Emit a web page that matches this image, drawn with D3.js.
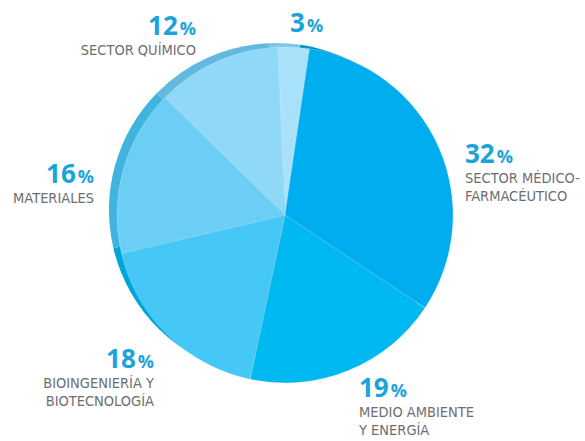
<!DOCTYPE html>
<html>
<head>
<meta charset="utf-8">
<script src="https://cdn.jsdelivr.net/npm/d3@7"></script>
<style>
  body { margin: 0; background: #fff; }
  .pct { font-family: "Open Sans", sans-serif; font-weight: 700; fill: #1ba3dc; }
  .lbl { font-family: "Liberation Sans Narrow", "DejaVu Sans Condensed", sans-serif; fill: #6d6e71; font-size: 14.5px; }
</style>
</head>
<body>
<div id="chart"></div>
<script>
// data, in clockwise order starting at the top
var categories = ["Otros", "Sector médico-farmacéutico", "Medio ambiente y energía",
                  "Bioingeniería y biotecnología", "Materiales", "Sector químico"];
var values = [3, 32, 19, 18, 16, 12];
var labelLines = [
  [],
  ["SECTOR MÉDICO-", "FARMACÉUTICO"],
  ["MEDIO AMBIENTE", "Y ENERGÍA"],
  ["BIOINGENIERÍA Y", "BIOTECNOLOGÍA"],
  ["MATERIALES"],
  ["SECTOR QUÍMICO"]
];

// colours of the top face and of the rim
var faceColors = ["#a9e1fa", "#00adee", "#00b9f1", "#45c8f5", "#6dcef5", "#8fd8f7"];
var rimColors  = ["#7cc6e6", "#0092cb", "#0096cf", "#00a6d9", "#40b3de", "#63b8df"];

// label anchor points (x, y of the percentage baseline) and alignment
var labelPos = [
  {x: 290, y: 32, anchor: "start"},
  {x: 465, y: 163, anchor: "start"},
  {x: 359, y: 397, anchor: "start"},
  {x: 154, y: 368, anchor: "end"},
  {x: 94,  y: 183, anchor: "end"},
  {x: 196, y: 35,  anchor: "end"}
];

var width = 585, height = 441;
var cx = 285, cy = 215, r = 168;

var svg = d3.select("#chart")
  .append("svg")
    .attr("width", width)
    .attr("height", height);

var start = -2.4 * Math.PI / 180;
var pie = d3.pie()
  .sort(null)
  .startAngle(start)
  .endAngle(start + 2 * Math.PI);

var arcs = pie(values);
var arc = d3.arc().innerRadius(0).outerRadius(r);

// rim (drawn behind, shifted up-left)
svg.append("g")
  .attr("transform", "translate(" + (cx - 9) + "," + (cy - 5) + ")")
  .selectAll("path")
  .data(arcs)
  .enter()
  .append("path")
    .attr("d", d3.arc().innerRadius(0).outerRadius(r - 1))
    .attr("fill", function(d, i) { return rimColors[i]; });

// face
svg.append("g")
  .attr("transform", "translate(" + cx + "," + cy + ")")
  .selectAll("path")
  .data(arcs)
  .enter()
  .append("path")
    .attr("d", arc)
    .attr("fill", function(d, i) { return faceColors[i]; })
    .attr("stroke", "rgba(255,255,255,0.35)")
    .attr("stroke-width", 0.6);

// labels
var lab = svg.append("g")
  .selectAll("g")
  .data(values)
  .enter()
  .append("g");

var pctText = lab.append("text")
  .attr("class", "pct")
  .attr("x", function(d, i) { return labelPos[i].x; })
  .attr("y", function(d, i) { return labelPos[i].y; })
  .attr("text-anchor", function(d, i) { return labelPos[i].anchor; });
pctText.append("tspan")
  .style("font-size", "26px")
  .text(function(d) { return d; });
pctText.append("tspan")
  .style("font-size", "18px")
  .attr("dx", 2)
  .text("%");

lab.each(function(d, i) {
  d3.select(this).selectAll("text.lbl")
    .data(labelLines[i])
    .enter()
    .append("text")
      .attr("class", "lbl")
      .attr("x", labelPos[i].x)
      .attr("y", function(t, j) { return labelPos[i].y + 20 + j * 18; })
      .attr("text-anchor", labelPos[i].anchor)
      .text(function(t) { return t; });
});
</script>
</body>
</html>
